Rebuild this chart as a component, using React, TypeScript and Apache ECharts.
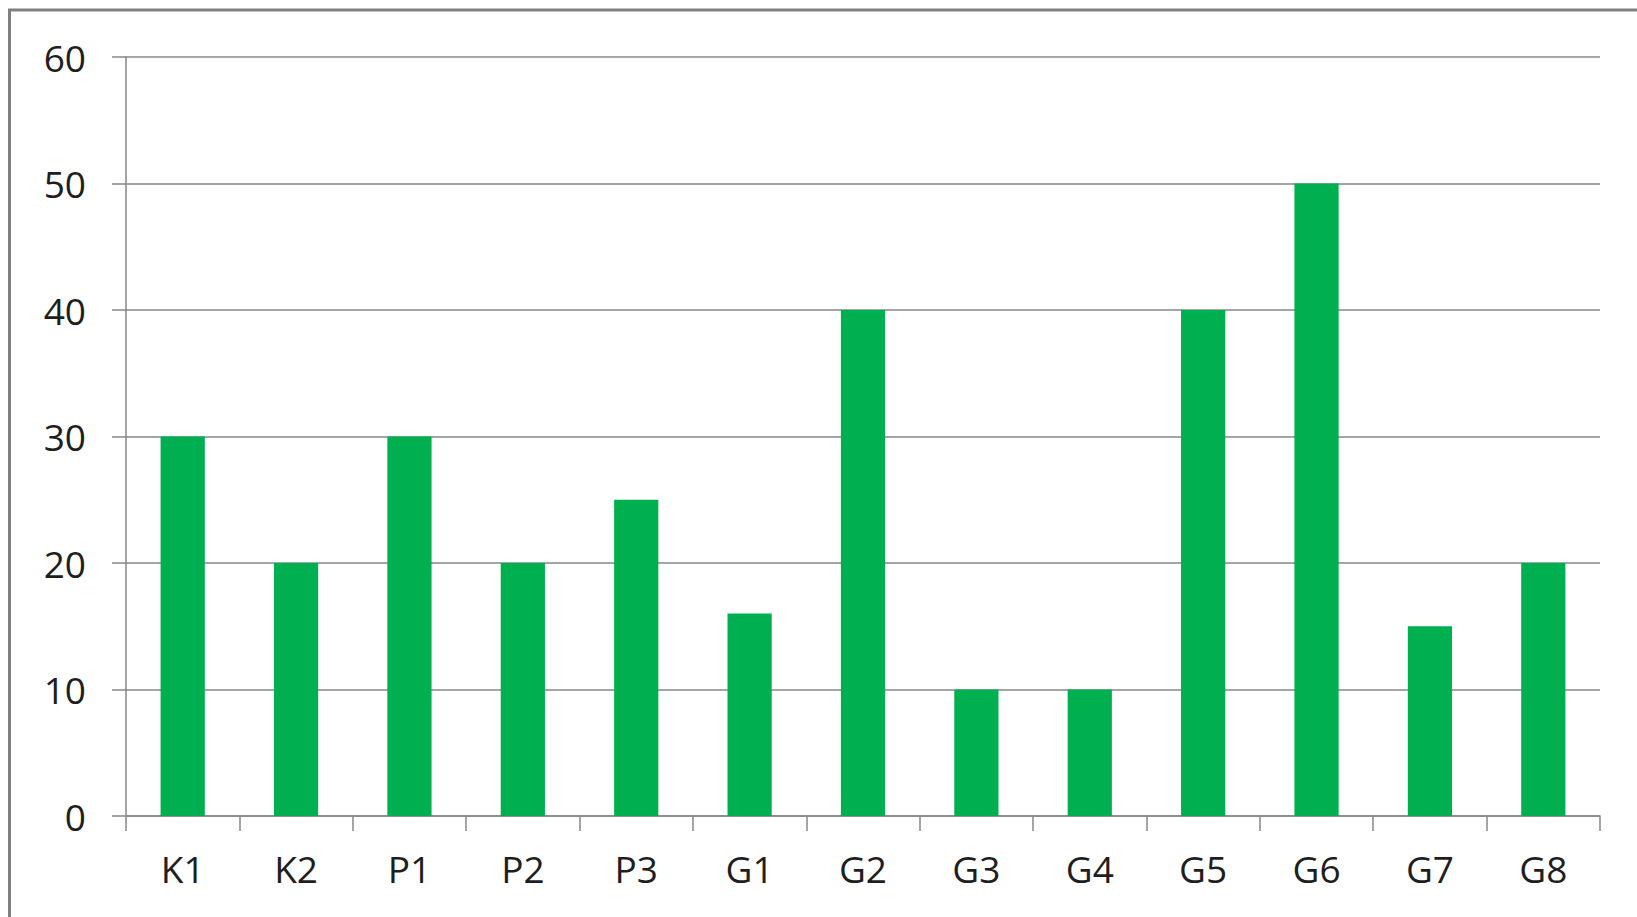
import React, { useEffect, useRef } from "react";
import * as echarts from "echarts";

const categories = ["K1", "K2", "P1", "P2", "P3", "G1", "G2", "G3", "G4", "G5", "G6", "G7", "G8"];
const values = [30, 20, 30, 20, 25, 16, 40, 10, 10, 40, 50, 15, 20];

export default function App() {
  const ref = useRef<HTMLDivElement>(null);
  useEffect(() => {
    if (!ref.current) return;
    const chart = echarts.init(ref.current, null, { renderer: "svg" });
    const gray = "#878787";
    chart.setOption({
      animation: false,
      backgroundColor: "#ffffff",
      textStyle: { fontFamily: "Open Sans" },
      graphic: [
        {
          type: "rect",
          shape: { x: 9.5, y: 10, width: 1800, height: 1100 },
          style: { fill: "none", stroke: "#808080", lineWidth: 3 },
          silent: true,
        },
      ],
      grid: { left: 126, top: 57, right: 37, bottom: 101, containLabel: false },
      xAxis: {
        type: "category",
        data: categories,
        axisLine: { show: true, lineStyle: { color: gray, width: 1.5 } },
        axisTick: { show: true, length: 15, lineStyle: { color: gray, width: 1.5 } },
        axisLabel: { color: "#1e1e1e", fontSize: 37, fontFamily: "Open Sans", margin: 34 },
      },
      yAxis: {
        type: "value",
        min: 0,
        max: 60,
        interval: 10,
        axisLine: { show: true, lineStyle: { color: gray, width: 1.5 } },
        axisTick: { show: true, length: 14, lineStyle: { color: gray, width: 1.5 } },
        splitLine: { show: true, lineStyle: { color: gray, width: 1.5 } },
        axisLabel: { color: "#1e1e1e", fontSize: 37, fontFamily: "Open Sans", margin: 40 },
      },
      series: [
        {
          type: "bar",
          data: values,
          barWidth: "39%",
          itemStyle: { color: "#00B050" },
        },
      ],
    });
    return () => chart.dispose();
  }, []);
  return (
    <div
      ref={ref}
      style={{ position: "absolute", left: 0, top: 0, width: 1637, height: 917 }}
    />
  );
}
